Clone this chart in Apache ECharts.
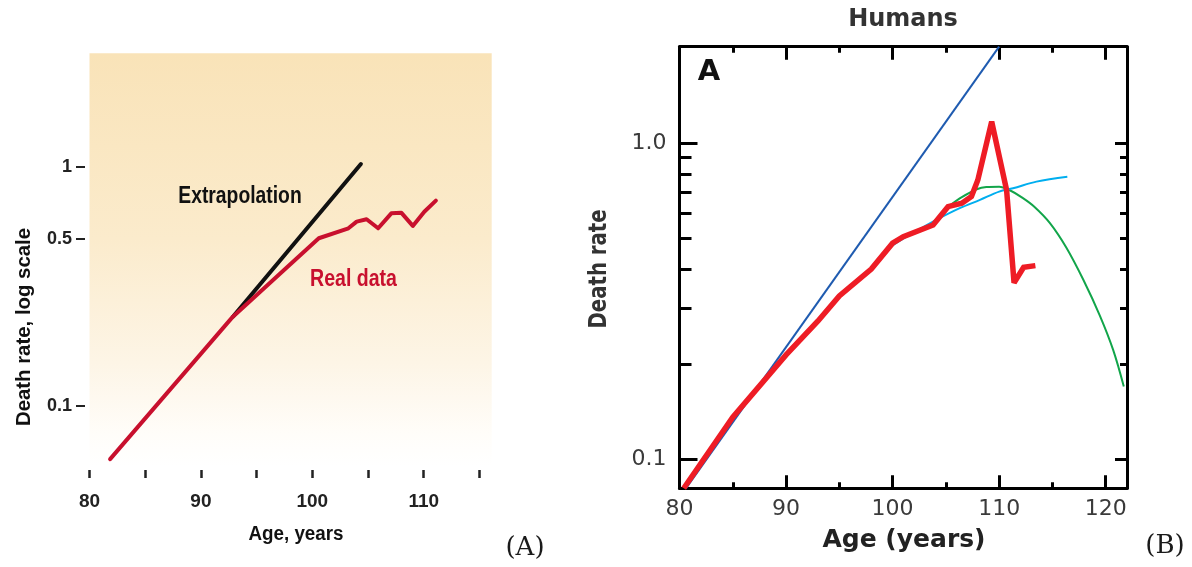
<!DOCTYPE html>
<html>
<head>
<meta charset="utf-8">
<script src="https://cdn.jsdelivr.net/npm/echarts@6/dist/echarts.min.js"></script>
<style>
  html, body { margin: 0; padding: 0; background: #ffffff; }
  #chart { width: 1192px; height: 567px; }
</style>
</head>
<body>
<div id="chart"></div>
<script>
// ---------- Panel (A): death rate of the oldest old, log scale ----------
const agesA      = [81.85, 92.87, 100.58, 103.24, 103.98, 104.87, 105.91, 107.09, 107.98, 109.02, 110.05, 111.09];
const realDataA  = [0.0597, 0.2357, 0.5017, 0.5523, 0.5888, 0.6025, 0.5523, 0.638, 0.642, 0.565, 0.648, 0.721];
const extrapAgesA = [92.87, 104.36];
const extrapA     = [0.2357, 1.026];
const xTicksA  = [80, 85, 90, 95, 100, 105, 110, 115];
const xLabelsA = [80, 90, 100, 110];
const yTicksA  = [0.1, 0.5, 1];

// ---------- Panel (B): Humans ----------
const agesRedB = [80.4, 85, 90, 93, 95, 98, 100, 101, 103.8, 105.2, 106.5, 107.4, 108, 109.3, 110.7, 111.4, 112.3, 113.4];
const redB     = [0.081, 0.136, 0.214, 0.274, 0.329, 0.40, 0.483, 0.506, 0.551, 0.63, 0.646, 0.678, 0.765, 1.17, 0.711, 0.362, 0.405, 0.41];
const agesBlueB = [80.6, 110];
const blueB     = [0.081, 2.02];
const agesCyanB = [99, 100, 102, 104.1, 106.3, 108.2, 110, 111.3, 113.5, 116.4];
const cyanB     = [0.445, 0.475, 0.522, 0.572, 0.623, 0.662, 0.703, 0.72, 0.756, 0.784];
const agesGreenB = [105.5, 106.5, 107.9, 108.8, 110, 111, 112.2, 113.3, 114.75, 116.3, 117.9, 119.45, 120.7, 121.7];
const greenB     = [0.64, 0.675, 0.715, 0.727, 0.729, 0.71, 0.672, 0.63, 0.56, 0.468, 0.37, 0.285, 0.222, 0.17];
const xMajorB = [80, 90, 100, 110, 120];
const xMinorB = [85, 95, 105, 115];
const yMajorB = [0.1, 1];
const yMinorB = [0.2, 0.3, 0.4, 0.5, 0.6, 0.7, 0.8, 0.9];

const pairs = (xs, ys) => xs.map((x, i) => [x, ys[i]]);

const SANS_A = "'Liberation Sans', Arial, sans-serif";
const SANS_B = "'DejaVu Sans', Verdana, sans-serif";

// Plain axis that only carries ticks (and optionally labels)
function tickAxis(base, opts) {
  return Object.assign({
    type: 'value',
    splitLine: { show: false },
    axisLine: { show: false },
    axisLabel: { show: false },
    axisTick: { show: false }
  }, base, opts);
}

const bx = { gridIndex: 1, type: 'value', min: 80, max: 122 };
const by = { gridIndex: 1, type: 'log', logBase: 10, min: 0.081, max: 2.02 };
const frameLine = { show: true, onZero: false, lineStyle: { color: '#000', width: 3 } };
const tickStyle = { color: '#000', width: 3 };

const option = {
  animation: false,
  backgroundColor: '#ffffff',
  grid: [
    {
      left: 89.5, top: 53.3, width: 402.2, height: 412.7,
      show: true, borderWidth: 0,
      outerBoundsMode: 'none',
      backgroundColor: new echarts.graphic.LinearGradient(0, 0, 0, 1, [
        { offset: 0,    color: '#f9e3b8' },
        { offset: 0.45, color: '#fbebcc' },
        { offset: 0.75, color: '#fdf5e6' },
        { offset: 0.92, color: '#fffdf9' },
        { offset: 1,    color: '#ffffff' }
      ])
    },
    {
      left: 679.5, top: 46.7, width: 447.5, height: 441.6,
      show: false, outerBoundsMode: 'none'
    }
  ],
  xAxis: [
    // (A) bottom axis: ticks below the shaded area, no axis line
    tickAxis({ gridIndex: 0, min: 80, max: 116.1, position: 'bottom', offset: 4 }, {
      axisTick: { show: true, customValues: xTicksA, length: 8, inside: false,
                  lineStyle: { color: '#222', width: 2.5 } },
      axisLabel: { show: true, customValues: xLabelsA, margin: 22,
                   fontFamily: SANS_A, fontSize: 19, fontWeight: 'bold', color: '#222' }
    }),
    // (B) bottom frame with major ticks and labels
    tickAxis(Object.assign({}, bx, { position: 'bottom' }), {
      axisLine: frameLine,
      axisTick: { show: true, customValues: xMajorB, inside: true, length: 13, lineStyle: tickStyle },
      axisLabel: { show: true, customValues: xMajorB, margin: 10,
                   fontFamily: SANS_B, fontSize: 22, color: '#3a3a3a' }
    }),
    // (B) bottom minor ticks
    tickAxis(Object.assign({}, bx, { position: 'bottom' }), {
      axisTick: { show: true, customValues: xMinorB, inside: true, length: 6, lineStyle: tickStyle }
    }),
    // (B) top frame with major ticks
    tickAxis(Object.assign({}, bx, { position: 'top' }), {
      axisLine: frameLine,
      axisTick: { show: true, customValues: xMajorB, inside: true, length: 13, lineStyle: tickStyle }
    }),
    // (B) top minor ticks
    tickAxis(Object.assign({}, bx, { position: 'top' }), {
      axisTick: { show: true, customValues: xMinorB, inside: true, length: 6, lineStyle: tickStyle }
    })
  ],
  yAxis: [
    // (A) log axis with dash ticks left of the shaded area
    tickAxis({ gridIndex: 0, type: 'log', logBase: 10, min: 0.0559, max: 2.982, position: 'left', offset: 4.5 }, {
      axisTick: { show: true, customValues: yTicksA, length: 9, inside: false,
                  lineStyle: { color: '#222', width: 2 } },
      axisLabel: { show: true, customValues: yTicksA, margin: 13,
                   formatter: v => String(+Number(v).toFixed(1)),
                   fontFamily: SANS_A, fontSize: 18, fontWeight: 'bold', color: '#222' }
    }),
    // (B) left frame with decade ticks and labels
    tickAxis(Object.assign({}, by, { position: 'left' }), {
      axisLine: frameLine,
      axisTick: { show: true, customValues: yMajorB, inside: true, length: 18, lineStyle: tickStyle },
      axisLabel: { show: true, customValues: yMajorB, margin: 13,
                   formatter: v => Number(v).toFixed(1),
                   fontFamily: SANS_B, fontSize: 22, color: '#3a3a3a' }
    }),
    // (B) left minor ticks
    tickAxis(Object.assign({}, by, { position: 'left' }), {
      axisTick: { show: true, customValues: yMinorB, inside: true, length: 12, lineStyle: tickStyle }
    }),
    // (B) right frame with decade ticks
    tickAxis(Object.assign({}, by, { position: 'right' }), {
      axisLine: frameLine,
      axisTick: { show: true, customValues: yMajorB, inside: true, length: 12, lineStyle: tickStyle }
    }),
    // (B) right minor ticks
    tickAxis(Object.assign({}, by, { position: 'right' }), {
      axisTick: { show: true, customValues: yMinorB, inside: true, length: 7, lineStyle: tickStyle }
    })
  ],
  series: [
    {
      name: 'Extrapolation', type: 'line', xAxisIndex: 0, yAxisIndex: 0,
      data: pairs(extrapAgesA, extrapA), symbol: 'none', z: 2,
      lineStyle: { color: '#111111', width: 4, cap: 'round' }
    },
    {
      name: 'Real data', type: 'line', xAxisIndex: 0, yAxisIndex: 0,
      data: pairs(agesA, realDataA), symbol: 'none', z: 3,
      lineStyle: { color: '#c8102e', width: 4, cap: 'round', join: 'round' }
    },
    {
      name: 'Gompertz', type: 'line', xAxisIndex: 1, yAxisIndex: 1,
      data: pairs(agesBlueB, blueB), symbol: 'none', z: 2, clip: true,
      lineStyle: { color: '#1f5bb0', width: 2 }
    },
    {
      name: 'Quadratic', type: 'line', xAxisIndex: 1, yAxisIndex: 1,
      data: pairs(agesGreenB, greenB), symbol: 'none', z: 2,
      smooth: 0.35, clip: true,
      lineStyle: { color: '#12a54a', width: 2 }
    },
    {
      name: 'Logistic', type: 'line', xAxisIndex: 1, yAxisIndex: 1,
      data: pairs(agesCyanB, cyanB), symbol: 'none', z: 2,
      smooth: 0.35, clip: true,
      lineStyle: { color: '#00aeef', width: 2 }
    },
    {
      name: 'Observed', type: 'line', xAxisIndex: 1, yAxisIndex: 1,
      data: pairs(agesRedB, redB), symbol: 'none', z: 3, clip: true,
      lineStyle: { color: '#ee1c25', width: 5.5, join: 'miter', miterLimit: 2 }
    }
  ],
  graphic: [
    // Panel (A) annotations
    { type: 'text', x: 240, y: 197, scaleX: 0.84, z: 10,
      style: { x: 0, y: 0, text: 'Extrapolation', align: 'center', verticalAlign: 'middle',
               textAlign: 'center', textVerticalAlign: 'middle',
               font: "bold 23px 'Liberation Sans', Arial, sans-serif", fill: '#111111' } },
    { type: 'text', x: 353.5, y: 280, scaleX: 0.85, z: 10,
      style: { x: 0, y: 0, text: 'Real data', align: 'center', verticalAlign: 'middle',
               textAlign: 'center', textVerticalAlign: 'middle',
               font: "bold 23px 'Liberation Sans', Arial, sans-serif", fill: '#c8102e' } },
    { type: 'text', x: 24, y: 327, rotation: Math.PI / 2, scaleX: 0.97, z: 10,
      style: { x: 0, y: 0, text: 'Death rate, log scale', align: 'center', verticalAlign: 'middle',
               textAlign: 'center', textVerticalAlign: 'middle',
               font: "bold 21px 'Liberation Sans', Arial, sans-serif", fill: '#111111' } },
    { type: 'text', x: 296, y: 534, scaleX: 0.94, z: 10,
      style: { x: 0, y: 0, text: 'Age, years', align: 'center', verticalAlign: 'middle',
               textAlign: 'center', textVerticalAlign: 'middle',
               font: "bold 20px 'Liberation Sans', Arial, sans-serif", fill: '#111111' } },
    { type: 'text', x: 525, y: 548, z: 10,
      style: { x: 0, y: 0, text: '(A)', align: 'center', verticalAlign: 'middle',
               textAlign: 'center', textVerticalAlign: 'middle',
               font: "26px 'DejaVu Serif', 'Liberation Serif', serif", fill: '#1a1a1a' } },
    // Panel (B) annotations
    { type: 'text', x: 903, y: 20, z: 10,
      style: { x: 0, y: 0, text: 'Humans', align: 'center', verticalAlign: 'middle',
               textAlign: 'center', textVerticalAlign: 'middle',
               font: "bold 24px 'DejaVu Sans', Verdana, sans-serif", fill: '#333333' } },
    { type: 'text', x: 709, y: 72, z: 10,
      style: { x: 0, y: 0, text: 'A', align: 'center', verticalAlign: 'middle',
               textAlign: 'center', textVerticalAlign: 'middle',
               font: "bold 29px 'DejaVu Sans', Verdana, sans-serif", fill: '#111111' } },
    { type: 'text', x: 600, y: 269, rotation: Math.PI / 2, scaleX: 0.82, z: 10,
      style: { x: 0, y: 0, text: 'Death rate', align: 'center', verticalAlign: 'middle',
               textAlign: 'center', textVerticalAlign: 'middle',
               font: "bold 24px 'DejaVu Sans', Verdana, sans-serif", fill: '#333333' } },
    { type: 'text', x: 904, y: 540, z: 10,
      style: { x: 0, y: 0, text: 'Age (years)', align: 'center', verticalAlign: 'middle',
               textAlign: 'center', textVerticalAlign: 'middle',
               font: "bold 25px 'DejaVu Sans', Verdana, sans-serif", fill: '#222222' } },
    { type: 'text', x: 1165, y: 546, z: 10,
      style: { x: 0, y: 0, text: '(B)', align: 'center', verticalAlign: 'middle',
               textAlign: 'center', textVerticalAlign: 'middle',
               font: "26px 'DejaVu Serif', 'Liberation Serif', serif", fill: '#1a1a1a' } }
  ]
};

const chart = echarts.init(document.getElementById('chart'), null, { renderer: 'canvas' });
chart.setOption(option);
</script>
</body>
</html>
